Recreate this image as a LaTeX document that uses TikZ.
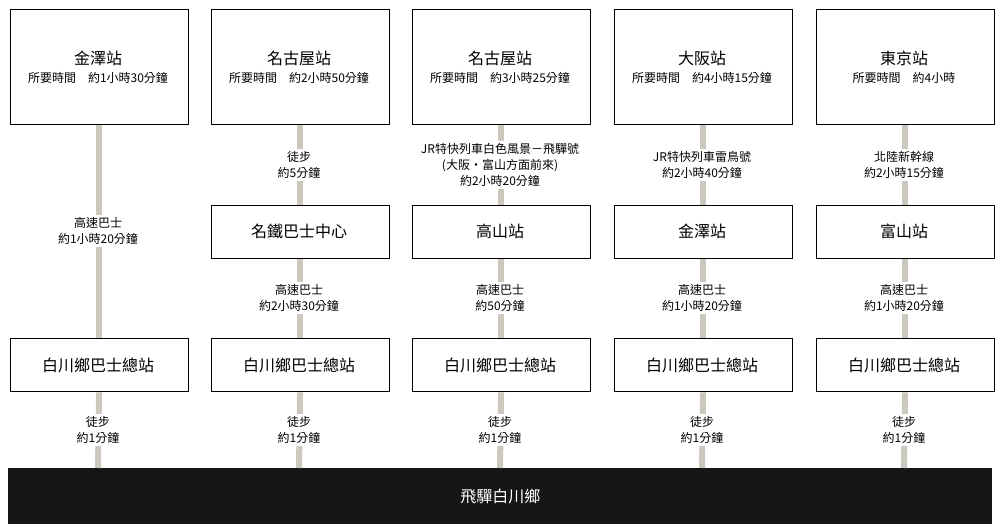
\documentclass[tikz,border=0pt]{standalone}
\usepackage{fontspec}
\setmainfont{Noto Sans CJK TC}
\begin{document}
\begin{tikzpicture}[x=0.75pt,y=-0.75pt,
  box/.style={draw=black,line width=0.8pt,fill=white,inner sep=0,anchor=north west},
  lab/.style={fill=white,inner sep=1.5pt,align=center,font=\fontsize{9}{12}\selectfont},
  big/.style={font=\fontsize{12}{14}\selectfont},
  conn/.style={draw={rgb,255:red,204;green,200;blue,190},line width=4.5pt}]
\useasboundingbox (0,0) rectangle (1000,531);
\fill[white] (0,0) rectangle (1000,531);
\node[fill={rgb,255:red,22;green,22;blue,22},minimum width=738pt,minimum height=42pt,inner sep=0,anchor=north west] (bar) at (8,468) {};
\node[text=white,big] (bartext) at (bar.center) {飛驒白川鄉};
\foreach \i/\cx in {1/98,2/299,3/500,4/702,5/904}{
  \node[box,minimum width=133.5pt,minimum height=86pt] (t\i) at (\cx-88.5,9) {};
  \node[box,minimum width=133.5pt,minimum height=40pt] (b\i) at (\cx-88.5,338) {};
  \coordinate (e\i) at (\cx,468);
  \draw[conn] (b\i.south) -- (e\i);
  \node[lab] (w\i) at (\cx,430) {徒步\\約1分鐘};
}
\foreach \i/\cx in {2/299,3/500,4/702,5/904}{
  \node[box,minimum width=133.5pt,minimum height=40pt] (m\i) at (\cx-88.5,205) {};
}
\draw[conn] (t1.south) -- (b1.north);
\foreach \i in {2,3,4,5}{\draw[conn] (t\i.south) -- (m\i.north); \draw[conn] (m\i.south) -- (b\i.north);}
\foreach \i/\cx in {1/98,2/299,3/500,4/702,5/904}{
  \node[box,minimum width=133.5pt,minimum height=40pt] (bb\i) at (\cx-88.5,338) {};
  \node[big] (bt\i) at (\cx,365) {白川鄉巴士總站};}
\foreach \i/\cx in {2/299,3/500,4/702,5/904}{
  \node[box,minimum width=133.5pt,minimum height=40pt] (mm\i) at (\cx-88.5,205) {};}
\foreach \i/\cx/\n/\tm in {1/98/金澤站/約1小時30分鐘,2/299/名古屋站/約2小時50分鐘,3/500/名古屋站/約3小時25分鐘,4/702/大阪站/約4小時15分鐘,5/904/東京站/約4小時}{
  \node[big] (tn\i) at (\cx,58) {\n};
  \node[font=\fontsize{9}{12}\selectfont] (tt\i) at (\cx,78) {所要時間\quad \tm};}
\foreach \i/\cx/\n in {2/299/名鐵巴士中心,3/500/高山站,4/702/金澤站,5/904/富山站}{\node[big] (mn\i) at (\cx,231) {\n};}
\node[lab] (l1) at (98,231) {高速巴士\\約1小時20分鐘};
\node[lab] (l2) at (299,165) {徒步\\約5分鐘};
\node[lab] (l3) at (500,165) {JR特快列車白色風景－飛驒號\\(大阪・富山方面前來)\\約2小時20分鐘};
\node[lab] (l4) at (702,165) {JR特快列車雷鳥號\\約2小時40分鐘};
\node[lab] (l5) at (904,165) {北陸新幹線\\約2小時15分鐘};
\node[lab] (h2) at (299,298) {高速巴士\\約2小時30分鐘};
\node[lab] (h3) at (500,298) {高速巴士\\約50分鐘};
\node[lab] (h4) at (702,298) {高速巴士\\約1小時20分鐘};
\node[lab] (h5) at (904,298) {高速巴士\\約1小時20分鐘};
\end{tikzpicture}
\end{document}
